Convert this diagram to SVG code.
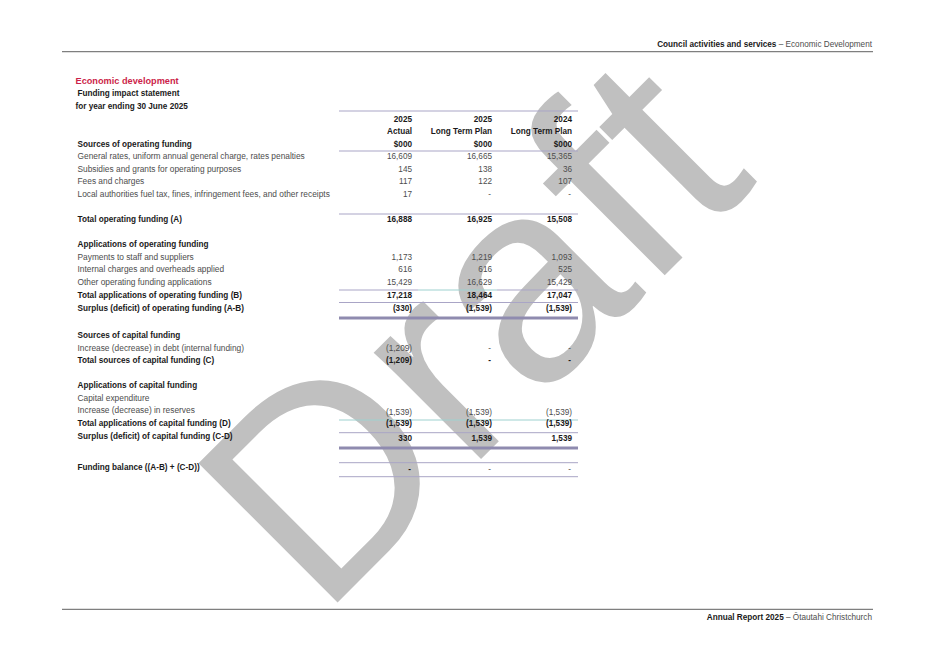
<svg xmlns="http://www.w3.org/2000/svg" width="934" height="661" viewBox="0 0 934 661">
<style>
text{font-family:"Liberation Sans",Arial,sans-serif;font-size:8.2px;fill:#4d4d4d}
.l{font-size:8.35px}
.b{font-weight:bold;fill:#1a1a1a}
.n{text-anchor:end}
.title{font-size:9.2px;font-weight:bold;fill:#cc1f4a}
.wm{font-size:286px;fill:#c0c0c0;font-weight:normal}
.rule{stroke:#7f7f7f;stroke-width:1.2}
.thin{stroke:#a9a5c6;stroke-width:1}
.teal{stroke:#9ed1cf;stroke-width:1}
.thick{stroke:#8f8baf;stroke-width:2.8}
</style>
<rect width="934" height="661" fill="#ffffff"/>
<g id="watermark">
<text class="wm" x="321" y="619" transform="rotate(-45 321 619)">Draft</text>
</g>
<g id="page-header">
<line class="rule" x1="62" y1="51.7" x2="873" y2="51.7"/>
<text class="n" x="872" y="47.3"><tspan class="b">Council activities and services</tspan> – Economic Development</text>
</g>
<g id="page-footer">
<line class="rule" x1="62" y1="609.3" x2="873" y2="609.3"/>
<text class="n" x="872" y="620"><tspan class="b">Annual Report 2025</tspan> – Ōtautahi Christchurch</text>
</g>
<g id="titles">
<text class="title" x="75.5" y="84">Economic development</text>
<text class="b" x="77.5" y="96">Funding impact statement</text>
<text class="b" x="75.5" y="109">for year ending 30 June 2025</text>
</g>
<g id="rules">
<line class="thin" x1="339" y1="111" x2="578" y2="111"/>
<line class="thin" x1="339" y1="151" x2="578" y2="151"/>
<line class="thin" x1="339" y1="214" x2="578" y2="214"/>
<line class="thin" x1="339" y1="290" x2="418" y2="290"/>
<line class="teal" x1="418" y1="290" x2="497" y2="290"/>
<line class="thin" x1="497" y1="290" x2="578" y2="290"/>
<line class="thin" x1="339" y1="302.5" x2="578" y2="302.5"/>
<line class="thick" x1="339" y1="318" x2="578" y2="318"/>
<line class="teal" x1="339" y1="420" x2="578" y2="420"/>
<line class="thin" x1="339" y1="432.7" x2="578" y2="432.7"/>
<line class="thick" x1="339" y1="448" x2="578" y2="448"/>
<line class="thin" x1="339" y1="462.7" x2="578" y2="462.7"/>
<line class="thin" x1="339" y1="476.7" x2="578" y2="476.7"/>
</g>
<g id="column-headers">
<text class="b n" x="412" y="122">2025</text>
<text class="b n" x="492" y="122">2025</text>
<text class="b n" x="572" y="122">2024</text>
<text class="b n" x="412" y="134.3">Actual</text>
<text class="b n" x="492" y="134.3">Long Term Plan</text>
<text class="b n" x="572" y="134.3">Long Term Plan</text>
<text class="b n" x="412" y="146.5">$000</text>
<text class="b n" x="492" y="146.5">$000</text>
<text class="b n" x="572" y="146.5">$000</text>
</g>
<g id="operating-sources">
<text class="b" x="77.5" y="146.7">Sources of operating funding</text>
<text class="l" x="77.5" y="159.3">General rates, uniform annual general charge, rates penalties</text>
<text class="n" x="412" y="159.3">16,609</text><text class="n" x="492" y="159.3">16,665</text><text class="n" x="572" y="159.3">15,365</text>
<text class="l" x="77.5" y="171.8">Subsidies and grants for operating purposes</text>
<text class="n" x="412" y="171.8">145</text><text class="n" x="492" y="171.8">138</text><text class="n" x="572" y="171.8">36</text>
<text class="l" x="77.5" y="184.2">Fees and charges</text>
<text class="n" x="412" y="184.2">117</text><text class="n" x="492" y="184.2">122</text><text class="n" x="572" y="184.2">107</text>
<text class="l" x="77.5" y="196.6">Local authorities fuel tax, fines, infringement fees, and other receipts</text>
<text class="n" x="412" y="196.6">17</text><text class="n" x="491" y="196.6">-</text><text class="n" x="571" y="196.6">-</text>
<text class="b" x="77.5" y="222">Total operating funding (A)</text>
<text class="b n" x="412" y="222">16,888</text><text class="b n" x="492" y="222">16,925</text><text class="b n" x="572" y="222">15,508</text>
</g>
<g id="operating-applications">
<text class="b" x="77.5" y="247">Applications of operating funding</text>
<text class="l" x="77.5" y="259.6">Payments to staff and suppliers</text>
<text class="n" x="412" y="259.6">1,173</text><text class="n" x="492" y="259.6">1,219</text><text class="n" x="572" y="259.6">1,093</text>
<text class="l" x="77.5" y="272.2">Internal charges and overheads applied</text>
<text class="n" x="412" y="272.2">616</text><text class="n" x="492" y="272.2">616</text><text class="n" x="572" y="272.2">525</text>
<text class="l" x="77.5" y="284.6">Other operating funding applications</text>
<text class="n" x="412" y="284.6">15,429</text><text class="n" x="492" y="284.6">16,629</text><text class="n" x="572" y="284.6">15,429</text>
<text class="b" x="77.5" y="297.6">Total applications of operating funding (B)</text>
<text class="b n" x="412" y="297.6">17,218</text><text class="b n" x="492" y="297.6">18,464</text><text class="b n" x="572" y="297.6">17,047</text>
<text class="b" x="77.5" y="310.5">Surplus (deficit) of operating funding (A-B)</text>
<text class="b n" x="412" y="310.5">(330)</text><text class="b n" x="492" y="310.5">(1,539)</text><text class="b n" x="572" y="310.5">(1,539)</text>
</g>
<g id="capital-sources">
<text class="b" x="77.5" y="338.3">Sources of capital funding</text>
<text class="l" x="77.5" y="350.8">Increase (decrease) in debt (internal funding)</text>
<text class="n" x="412" y="350.8">(1,209)</text><text class="n" x="491" y="350.8">-</text><text class="n" x="571" y="350.8">-</text>
<text class="b" x="77.5" y="363.2">Total sources of capital funding (C)</text>
<text class="b n" x="412" y="363.2">(1,209)</text><text class="b n" x="491" y="363.2">-</text><text class="b n" x="571" y="363.2">-</text>
</g>
<g id="capital-applications">
<text class="b" x="77.5" y="388.4">Applications of capital funding</text>
<text class="l" x="77.5" y="400.8">Capital expenditure</text>
<text class="l" x="77.5" y="413.4">Increase (decrease) in reserves</text>
<text class="n" x="412" y="414.6">(1,539)</text><text class="n" x="492" y="414.6">(1,539)</text><text class="n" x="572" y="414.6">(1,539)</text>
<text class="b" x="77.5" y="426.3">Total applications of capital funding (D)</text>
<text class="b n" x="412" y="426.3">(1,539)</text><text class="b n" x="492" y="426.3">(1,539)</text><text class="b n" x="572" y="426.3">(1,539)</text>
<text class="b" x="77.5" y="439.2">Surplus (deficit) of capital funding (C-D)</text>
<text class="b n" x="412" y="440.5">330</text><text class="b n" x="492" y="440.5">1,539</text><text class="b n" x="572" y="440.5">1,539</text>
</g>
<g id="funding-balance">
<text class="b" x="77.5" y="470.3">Funding balance ((A-B) + (C-D))</text>
<text class="b n" x="411" y="471.5">-</text><text class="n" x="491" y="471.5">-</text><text class="n" x="571" y="471.5">-</text>
</g>
</svg>
